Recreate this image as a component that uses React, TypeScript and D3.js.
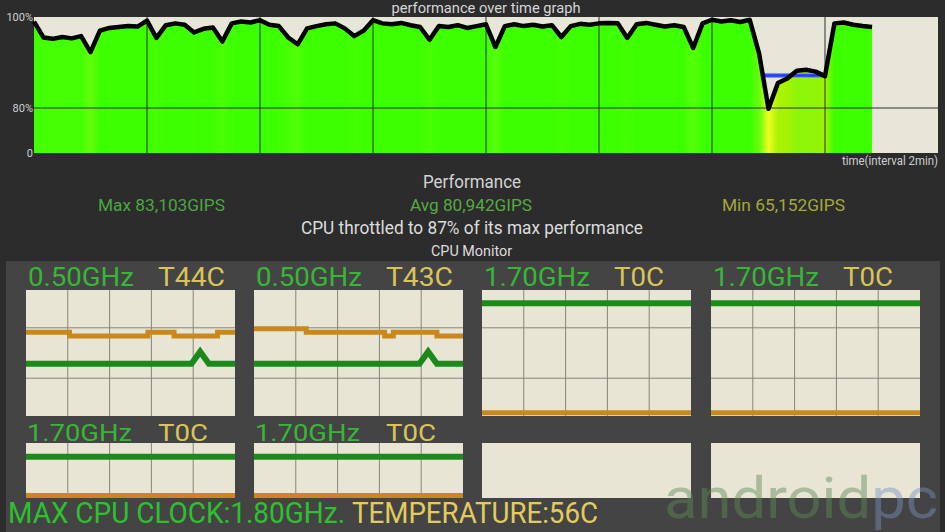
import * as React from 'react';
import * as d3 from 'd3';

// performance over time, one sample every 10 s, % of max
const perfValues = [
  99.0, 95.5, 95.2, 95.6, 95.3, 95.8, 92.3, 97.0, 97.6, 97.8,
  98.0, 97.9, 99.2, 95.4, 98.2, 98.6, 98.3, 96.6, 97.4, 97.7,
  94.6, 98.6, 99.0, 98.8, 99.3, 98.3, 98.0, 95.5, 94.0, 97.5,
  98.0, 98.4, 98.6, 97.5, 95.8, 97.0, 99.3, 98.6, 98.4, 98.7,
  98.2, 97.8, 95.0, 98.0, 97.8, 98.2, 97.6, 98.0, 98.4, 93.4,
  98.0, 98.4, 98.0, 98.3, 97.9, 98.2, 95.6, 98.0, 98.5, 98.3,
  98.6, 98.7, 98.6, 95.4, 98.4, 98.7, 98.3, 97.9, 98.2, 97.8,
  93.2, 98.6, 99.4, 99.0, 99.3, 98.9, 99.4, 92.0, 78.5, 85.5,
  86.5, 88.2, 88.4, 88.0, 87.0, 98.6, 98.8, 98.3, 98.0, 97.8,
];
const sampleSec = 10;
const spanSec = 960;
const gridEverySec = 120;
const yTickValues = [0, 80, 100];
const yTickLabels = ['0', '80%', '100%'];
const throttleSec = [773, 838];
const throttleLevel = [86.6, 87.7];

const statLabels = ['Max 83,103GIPS', 'Avg 80,942GIPS', 'Min 65,152GIPS'];

// CPU monitor: 6 cores, 25 samples each
const coreFreqLabels = ['0.50GHz', '0.50GHz', '1.70GHz', '1.70GHz', '1.70GHz', '1.70GHz'];
const coreTempLabels = ['T44C', 'T43C', 'T0C', 'T0C', 'T0C', 'T0C'];
const core1Freq = [0.5, 0.5, 0.5, 0.5, 0.5, 0.5, 0.5, 0.5, 0.5, 0.5, 0.5, 0.5, 0.5, 0.5, 0.5, 0.5, 0.5, 0.5, 0.5, 0.5, 0.74, 0.5, 0.5, 0.5, 0.5];
const core1Temp = [44, 44, 44, 44, 44, 42, 42, 42, 42, 42, 42, 42, 42, 42, 44, 44, 44, 42, 42, 42, 42, 42, 44, 44, 44];
const core2Freq = [0.5, 0.5, 0.5, 0.5, 0.5, 0.5, 0.5, 0.5, 0.5, 0.5, 0.5, 0.5, 0.5, 0.5, 0.5, 0.5, 0.5, 0.5, 0.5, 0.5, 0.74, 0.5, 0.5, 0.5, 0.5];
const core2Temp = [46, 46, 46, 46, 46, 46, 44, 44, 44, 44, 44, 44, 44, 44, 44, 42, 44, 44, 44, 44, 44, 42, 42, 42, 42];
const idleFreq = [1.7, 1.7, 1.7, 1.7, 1.7, 1.7, 1.7, 1.7, 1.7, 1.7, 1.7, 1.7, 1.7, 1.7, 1.7, 1.7, 1.7, 1.7, 1.7, 1.7, 1.7, 1.7, 1.7, 1.7, 1.7];
const idleTemp = [0, 0, 0, 0, 0, 0, 0, 0, 0, 0, 0, 0, 0, 0, 0, 0, 0, 0, 0, 0, 0, 0, 0, 0, 0];
const coreFreqs = [core1Freq, core2Freq, idleFreq, idleFreq, idleFreq, idleFreq];
const coreTemps = [core1Temp, core2Temp, idleTemp, idleTemp, idleTemp, idleTemp];

const maxClockLabel = 'MAX CPU CLOCK:1.80GHz.';
const maxTempLabel = 'TEMPERATURE:56C';

const FONT = 'Roboto, sans-serif';

function CoreChart({ x0, y0, w, h, freq, temp, hGrid, fRange, tRange, id }: {
  x0: number; y0: number; w: number; h: number; freq?: number[]; temp?: number[];
  hGrid: boolean; fRange: [number, number]; tRange: [number, number]; id: string;
}) {
  const grid = d3.scaleLinear().domain([0, 5]).range([0, w]);
  const body = <rect x={0} y={0} width={w} height={h} fill="#e8e5d5" />;
  if (!freq || !temp) return <g transform={`translate(${x0},${y0})`}>{body}</g>;
  const cx = d3.scaleLinear().domain([0, freq.length - 1]).range([0, w]);
  const fy = d3.scaleLinear().domain([0.5, 1.7]).range([h * fRange[0], h * fRange[1]]);
  const ty = d3.scaleLinear().domain([0, 44]).range([h * tRange[0], h * tRange[1]]);
  const tLine = d3.line<number>().x((_, i) => cx(i)).y(d => ty(d)).curve(d3.curveStepAfter);
  const fLine = d3.line<number>().x((_, i) => cx(i)).y(d => fy(d));
  return (
    <g transform={`translate(${x0},${y0})`}>
      <clipPath id={id}><rect x={0} y={0} width={w} height={h} /></clipPath>
      {body}
      <g stroke="#85857b" strokeWidth={1}>
        {d3.range(1, 5).map(k => (
          <line key={k} x1={grid(k)} x2={grid(k)} y1={0} y2={h} />
        ))}
        {hGrid && [0.3, 0.7].map(f => (
          <line key={f} x1={0} x2={w} y1={h * f} y2={h * f} />
        ))}
      </g>
      <g clipPath={`url(#${id})`} fill="none">
        <path d={tLine(temp) ?? ''} stroke="#c8881e" strokeWidth={5} />
        <path d={fLine(freq) ?? ''} stroke="#1b8a1b" strokeWidth={6} strokeLinejoin="miter" />
      </g>
    </g>
  );
}

export default function App() {
  const x = d3.scaleLinear().domain([0, spanSec]).range([34, 938]);
  const y = d3.scaleLinear().domain([0, 80, 100]).range([153, 108, 17]);
  const color = d3.scaleLinear<string>()
    .domain([78, 86, 90, 94, 97])
    .range(['#eeff22', '#a6f200', '#7cf810', '#50ff08', '#3cff00'])
    .clamp(true);
  const pts = perfValues.map((v, i) => [i * sampleSec, v] as [number, number]);
  const lastSec = pts[pts.length - 1][0];
  const area = d3.area<[number, number]>().x(d => x(d[0])).y0(y(0)).y1(d => y(d[1]));
  const line = d3.line<[number, number]>().x(d => x(d[0])).y(d => y(d[1]));
  const gridSecs = d3.range(gridEverySec, spanSec, gridEverySec);
  const bandMid = d3.mean(throttleLevel)!;

  const chartXs = [26, 254, 482, 711];
  const chartW = 209;

  return (
    <svg width={945} height={532} style={{ position: 'fixed', left: 0, top: 0 }} fontFamily={FONT}>
      <defs>
        <linearGradient id="perfFill" gradientUnits="userSpaceOnUse" x1={x(0)} x2={x(lastSec)} y1={0} y2={0}>
          {perfValues.map((v, i) => (
            <stop key={i} offset={i / (perfValues.length - 1)} stopColor={color(v)} />
          ))}
        </linearGradient>
      </defs>
      <rect width={945} height={532} fill="#2c2c2c" />

      {/* performance over time */}
      <text x={486} y={13} fontSize={14} fill="#d6d6d6" textAnchor="middle" textLength={189} lengthAdjust="spacingAndGlyphs">
        performance over time graph
      </text>
      <rect x={x(0)} y={y(100)} width={x(spanSec) - x(0)} height={y(0) - y(100)} fill="#e8e6d8" />
      <path d={area(pts) ?? ''} fill="url(#perfFill)" />
      <g stroke="#2e2e2e" strokeWidth={1}>
        {gridSecs.map(s => <line key={s} x1={x(s)} x2={x(s)} y1={y(100)} y2={y(0)} />)}
        <line x1={x(0)} x2={x(spanSec)} y1={y(80)} y2={y(80)} />
      </g>
      <rect x={x(throttleSec[0])} y={y(throttleLevel[1])} width={x(throttleSec[1]) - x(throttleSec[0])}
        height={y(throttleLevel[0]) - y(throttleLevel[1])} fill="#7d92f2" />
      <line x1={x(throttleSec[0])} x2={x(throttleSec[1])} y1={y(bandMid)} y2={y(bandMid)}
        stroke="#2438ff" strokeWidth={2.5} />
      <path d={line(pts) ?? ''} fill="none" stroke="#000" strokeWidth={4.5} strokeLinejoin="round" />
      {yTickValues.map((v, i) => (
        <text key={v} x={33} y={y(v)} dy="0.35em" fontSize={11} fill="#cfcfcf" textAnchor="end">{yTickLabels[i]}</text>
      ))}
      <text x={938} y={165} fontSize={12} fill="#cfcfcf" textAnchor="end" textLength={96} lengthAdjust="spacingAndGlyphs">
        time(interval 2min)
      </text>

      {/* summary */}
      <text x={472} y={188} fontSize={18} fill="#d4d4d4" textAnchor="middle" textLength={98} lengthAdjust="spacingAndGlyphs">Performance</text>
      <text x={161.5} y={211} fontSize={17} fill="#4ea445" textAnchor="middle" textLength={127} lengthAdjust="spacingAndGlyphs">{statLabels[0]}</text>
      <text x={471} y={211} fontSize={17} fill="#58a844" textAnchor="middle" textLength={122} lengthAdjust="spacingAndGlyphs">{statLabels[1]}</text>
      <text x={783.5} y={211} fontSize={17} fill="#a2a83e" textAnchor="middle" textLength={123} lengthAdjust="spacingAndGlyphs">{statLabels[2]}</text>
      <text x={472} y={234} fontSize={18} fill="#dcdcdc" textAnchor="middle" textLength={342} lengthAdjust="spacingAndGlyphs">
        CPU throttled to 87% of its max performance
      </text>
      <text x={471.5} y={256} fontSize={15} fill="#dcdcdc" textAnchor="middle" textLength={81} lengthAdjust="spacingAndGlyphs">CPU Monitor</text>

      {/* CPU monitor */}
      <rect x={6} y={261} width={934} height={271} fill="#444444" />
      {chartXs.map((cx0, i) => (
        <g key={`top${i}`}>
          <text x={cx0 + 2} y={286} fontSize={26} fill="#39b539" textLength={106} lengthAdjust="spacingAndGlyphs">{coreFreqLabels[i]}</text>
          <text x={cx0 + 132} y={286} fontSize={26} fill="#d9c35c" textLength={coreTempLabels[i].length * 17 - 1} lengthAdjust="spacingAndGlyphs">{coreTempLabels[i]}</text>
          <CoreChart id={`clipTop${i}`} x0={cx0} y0={290} w={chartW} h={126} freq={coreFreqs[i]} temp={coreTemps[i]}
            hGrid fRange={[0.585, 0.106]} tRange={[0.974, 0.336]} />
        </g>
      ))}
      {chartXs.map((cx0, j) => {
        const i = j + 4;
        const has = i < coreFreqs.length;
        return (
          <g key={`bot${j}`}>
            {has && (
              <>
                <text x={cx0 + 1} y={441} fontSize={24} fill="#39b539" textLength={105} lengthAdjust="spacingAndGlyphs">{coreFreqLabels[i]}</text>
                <text x={cx0 + 132} y={441} fontSize={24} fill="#d9c35c" textLength={coreTempLabels[i].length * 17 - 1} lengthAdjust="spacingAndGlyphs">{coreTempLabels[i]}</text>
              </>
            )}
            <CoreChart id={`clipBot${j}`} x0={cx0} y0={443} w={chartW} h={55}
              freq={has ? coreFreqs[i] : undefined} temp={has ? coreTemps[i] : undefined}
              hGrid={false} fRange={[0.95, 0.25]} tRange={[0.955, 0.3]} />
          </g>
        );
      })}

      {/* watermark */}
      <text x={664} y={518} fontSize={58} opacity={0.45} textLength={274} lengthAdjust="spacingAndGlyphs">
        <tspan fill="#5f8a55">android</tspan><tspan fill="#7a92c0">pc</tspan>
      </text>

      <text x={8} y={523} fontSize={30} fill="#2fc02f" textLength={337} lengthAdjust="spacingAndGlyphs">{maxClockLabel}</text>
      <text x={352} y={523} fontSize={30} fill="#e2cc5e" textLength={246} lengthAdjust="spacingAndGlyphs">{maxTempLabel}</text>
    </svg>
  );
}
